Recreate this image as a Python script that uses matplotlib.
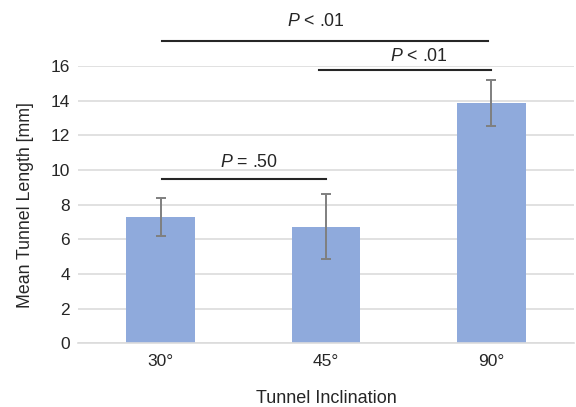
import matplotlib
matplotlib.use("Agg")
import matplotlib.pyplot as plt
import numpy as np

# ---- data ----
categories = ["30°", "45°", "90°"]
means = [7.3, 6.72, 13.89]
errors = [1.11, 1.88, 1.33]

# significance brackets: line from x0 to x1 at height h, label centred at tx
br_x0 = [0.01, 0.96, 0.01]
br_x1 = [1.0, 2.0, 1.98]
br_h = [9.48, 15.76, 17.45]
br_tx = [0.535, 1.56, 0.94]
br_ty = [10.17, 16.28, 18.3]
br_lab = ["= .50", "< .01", "< .01"]

plt.rcParams['font.family'] = ['Liberation Sans', 'DejaVu Sans']
plt.rcParams['mathtext.fontset'] = 'custom'
plt.rcParams['mathtext.rm'] = 'Liberation Sans'
plt.rcParams['mathtext.it'] = 'Liberation Sans:italic'

TXT = '#262626'
fig = plt.figure(figsize=(5.76, 4.07), dpi=100)
ax = fig.add_axes([0.1354, 0.1565, 0.861, 0.6813])

x = np.arange(len(categories))
ax.bar(x, means, width=0.415, color='#8FAADC', zorder=2)
ax.errorbar(x, means, yerr=errors, fmt='none', ecolor='#7f7f7f',
            elinewidth=1.4, capsize=3.9, capthick=1.4, zorder=3)

for x0, x1, h, tx, ty, lab in zip(br_x0, br_x1, br_h, br_tx, br_ty, br_lab):
    ax.plot([x0, x1], [h, h], color='#262626', lw=1.5,
            clip_on=False, zorder=4)
    ax.text(tx, ty, r'$\mathit{P}$ ' + lab, ha='center', va='baseline',
            fontsize=12.8, color=TXT)

ax.set_xlim(-0.5, 2.5)
ax.set_ylim(0, 16)
ax.set_yticks(np.arange(0, 17, 2))
ax.set_xticks(x)
ax.set_xticklabels(categories)
ax.grid(axis='y', color='#dcdcdc', lw=1.2, zorder=0)
ax.set_axisbelow(True)
for s in ax.spines.values():
    s.set_visible(False)
ax.spines['bottom'].set_visible(True)
ax.spines['bottom'].set_color('#dcdcdc')
ax.spines['bottom'].set_linewidth(1.2)
ax.tick_params(length=0, labelsize=12.5, colors=TXT, pad=5.8)
ax.tick_params(axis='x', pad=8)

ax.set_xlabel('Tunnel Inclination', fontsize=13, color=TXT, labelpad=15)
ax.set_ylabel('Mean Tunnel Length [mm]', fontsize=12.8, color=TXT, labelpad=12)

fig.savefig('out.png', dpi=100)
